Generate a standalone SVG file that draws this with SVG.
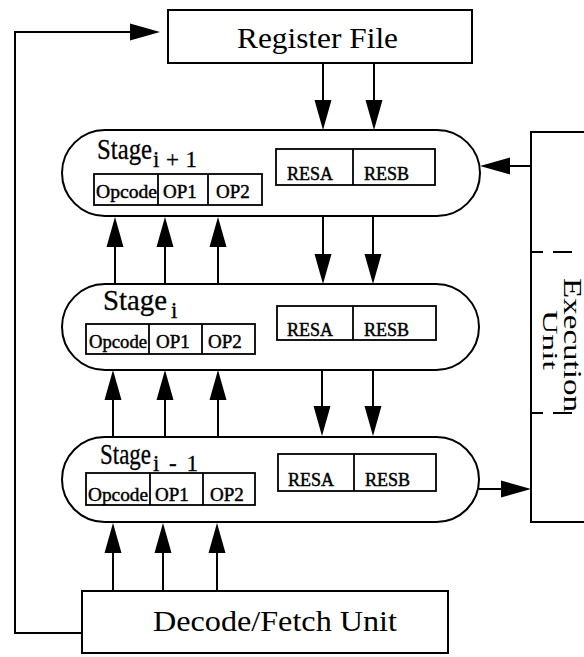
<svg xmlns="http://www.w3.org/2000/svg" width="584" height="657" viewBox="0 0 584 657">
<style>
.box{fill:#fff;stroke:#000;stroke-width:2}
.cell{fill:none;stroke:#000;stroke-width:1.8}
.pill{fill:#fff;stroke:#000;stroke-width:2}
.arr{fill:none;stroke:#000;stroke-width:2;marker-end:url(#ah)}
text{font-family:"Liberation Serif","Times New Roman",serif;fill:#000}
.big{font-size:30px}
.stg{font-size:29px;stroke:#000;stroke-width:0.3}
.sub{font-size:23px;stroke:#000;stroke-width:0.3}
.op{font-size:19px;stroke:#000;stroke-width:0.45}
.res{font-size:18px;stroke:#000;stroke-width:0.45}
.dash{fill:none;stroke:#000;stroke-width:2;stroke-dasharray:12 10 19 20}
</style>
<defs>
<marker id="ah" markerUnits="userSpaceOnUse" markerWidth="31" markerHeight="18" refX="20" refY="9" orient="auto" viewBox="0 0 31 18">
<path d="M0,0.5 L30,9 L0,17.5 z" fill="#000"/>
</marker>
</defs>

<g id="register-file">
<rect class="box" x="168" y="10" width="304" height="53"/>
<text class="big" x="237" y="48" textLength="161" lengthAdjust="spacingAndGlyphs">Register File</text>
</g>

<g id="execution-unit">
<rect class="box" x="531" y="132" width="70" height="390"/>
<line class="dash" x1="531" y1="252" x2="584" y2="252"/>
<line class="dash" x1="531" y1="413" x2="584" y2="413"/>
<text transform="translate(564,345) rotate(90)" style="font-size:25px" text-anchor="middle" textLength="134" lengthAdjust="spacingAndGlyphs">Execution</text>
<text transform="translate(543,340) rotate(90)" style="font-size:21px" text-anchor="middle" textLength="60" lengthAdjust="spacingAndGlyphs">Unit</text>
</g>

<g id="stage-i-plus-1">
<rect class="pill" x="62" y="130" width="418" height="86" rx="43" ry="43"/>
<text class="stg" x="97" y="159" textLength="55" lengthAdjust="spacingAndGlyphs">Stage</text>
<text class="sub" x="153" y="167" textLength="44" lengthAdjust="spacing">i+1</text>
<rect class="cell" x="94" y="174" width="168" height="31"/>
<line class="cell" x1="158" y1="174" x2="158" y2="205"/>
<line class="cell" x1="208" y1="174" x2="208" y2="205"/>
<text class="op" x="96" y="198" textLength="61" lengthAdjust="spacingAndGlyphs">Opcode</text>
<text class="op" x="163" y="198">OP1</text>
<text class="op" x="216" y="198">OP2</text>
<rect class="cell" x="276" y="149" width="159" height="36"/>
<line class="cell" x1="353" y1="149" x2="353" y2="185"/>
<text class="res" x="287" y="180">RESA</text>
<text class="res" x="364" y="180">RESB</text>
</g>

<g id="stage-i">
<rect class="pill" x="62" y="284" width="417" height="86" rx="43" ry="43"/>
<text class="stg" x="103" y="310" textLength="64" lengthAdjust="spacingAndGlyphs">Stage</text>
<text class="sub" x="171" y="318">i</text>
<rect class="cell" x="86" y="324" width="169" height="30"/>
<line class="cell" x1="149" y1="324" x2="149" y2="354"/>
<line class="cell" x1="202" y1="324" x2="202" y2="354"/>
<text class="op" x="89" y="348" textLength="58" lengthAdjust="spacingAndGlyphs">Opcode</text>
<text class="op" x="156" y="348">OP1</text>
<text class="op" x="208" y="348">OP2</text>
<rect class="cell" x="277" y="306" width="159" height="34"/>
<line class="cell" x1="353" y1="306" x2="353" y2="340"/>
<text class="res" x="287" y="336">RESA</text>
<text class="res" x="364" y="336">RESB</text>
</g>

<g id="stage-i-minus-1">
<rect class="pill" x="62" y="437" width="417" height="85" rx="42.5" ry="42.5"/>
<text class="stg" x="100" y="464" textLength="51" lengthAdjust="spacingAndGlyphs">Stage</text>
<text class="sub" x="153" y="471" textLength="45" lengthAdjust="spacing">i-1</text>
<rect class="cell" x="86" y="473" width="169" height="32"/>
<line class="cell" x1="150" y1="473" x2="150" y2="505"/>
<line class="cell" x1="203" y1="473" x2="203" y2="505"/>
<text class="op" x="88" y="501" textLength="60" lengthAdjust="spacingAndGlyphs">Opcode</text>
<text class="op" x="155" y="501">OP1</text>
<text class="op" x="210" y="501">OP2</text>
<rect class="cell" x="278" y="454" width="158" height="37"/>
<line class="cell" x1="354" y1="454" x2="354" y2="491"/>
<text class="res" x="288" y="486">RESA</text>
<text class="res" x="365" y="486">RESB</text>
</g>

<g id="decode-fetch-unit">
<rect class="box" x="82" y="591" width="366" height="62"/>
<text class="big" x="153" y="631" textLength="244" lengthAdjust="spacingAndGlyphs">Decode/Fetch Unit</text>
</g>

<g id="connectors">
<line class="arr" x1="323" y1="63" x2="323" y2="120"/>
<line class="arr" x1="374" y1="63" x2="374" y2="120"/>
<line class="arr" x1="323" y1="216" x2="323" y2="274"/>
<line class="arr" x1="373" y1="216" x2="373" y2="274"/>
<line class="arr" x1="322" y1="370" x2="322" y2="426"/>
<line class="arr" x1="373" y1="370" x2="373" y2="426"/>
<line class="arr" x1="115" y1="284" x2="115" y2="227"/>
<line class="arr" x1="165" y1="284" x2="165" y2="227"/>
<line class="arr" x1="218" y1="284" x2="218" y2="227"/>
<line class="arr" x1="113" y1="437" x2="113" y2="380"/>
<line class="arr" x1="165" y1="437" x2="165" y2="380"/>
<line class="arr" x1="218" y1="437" x2="218" y2="380"/>
<line class="arr" x1="113" y1="591" x2="113" y2="533"/>
<line class="arr" x1="163" y1="591" x2="163" y2="533"/>
<line class="arr" x1="217" y1="591" x2="217" y2="533"/>
<line class="arr" x1="531" y1="166" x2="490" y2="166"/>
<line class="arr" x1="479" y1="489" x2="521" y2="489"/>
<polyline class="arr" points="82,633 15,633 15,32 150,32"/>
</g>
</svg>
